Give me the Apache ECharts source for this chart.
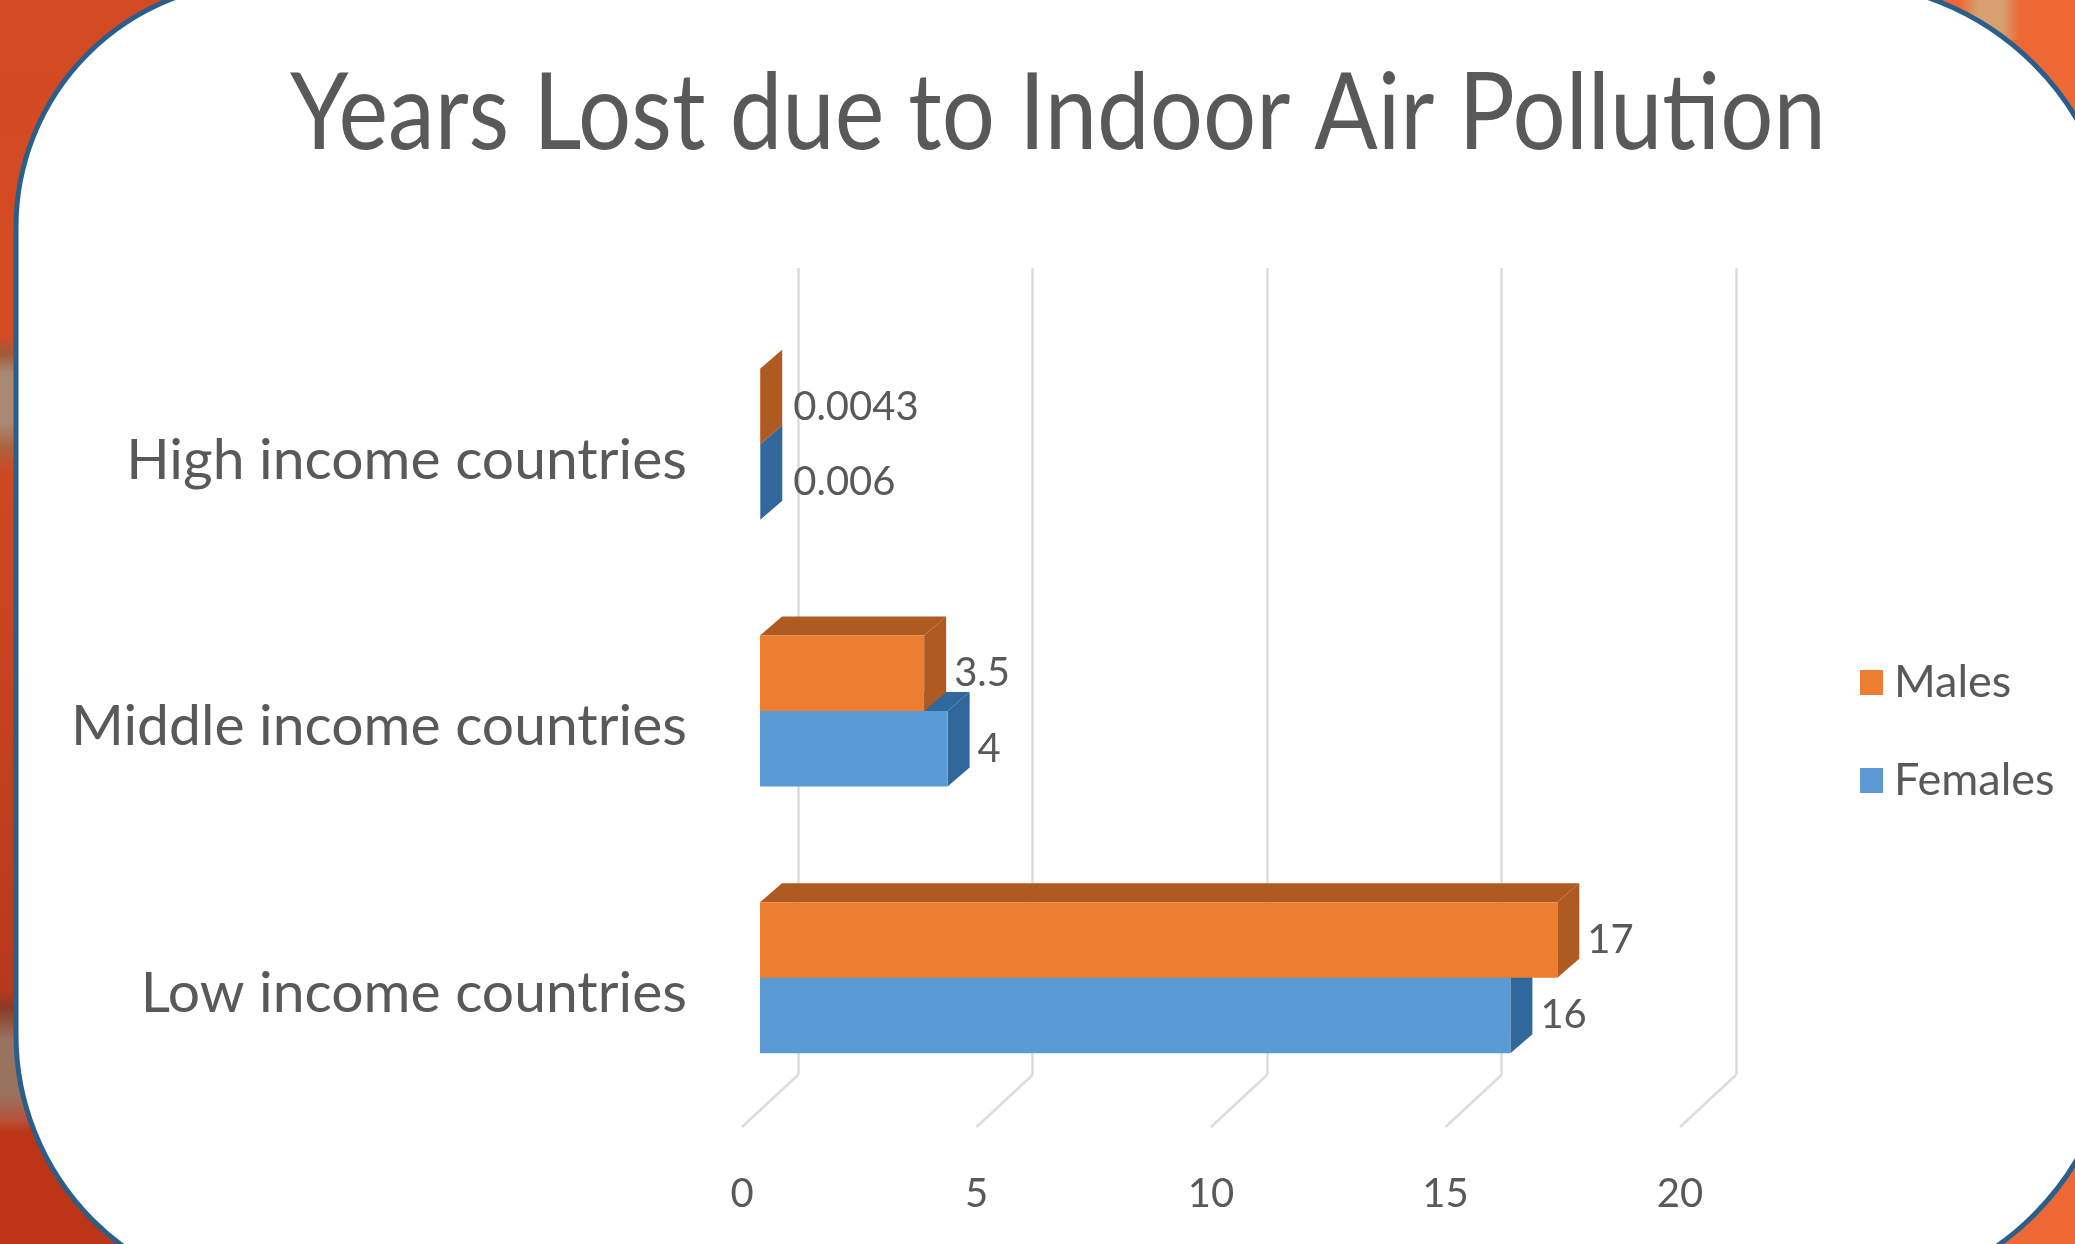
<!DOCTYPE html>
<html><head><meta charset="utf-8">
<script src="https://cdn.jsdelivr.net/npm/echarts@6/dist/echarts.min.js"></script>
<style>html,body{margin:0;padding:0;background:#d9501f}#c{width:2075px;height:1244px}</style>
</head><body><div id="c"></div>
<script>
const titleText = 'Years Lost due to Indoor Air Pollution';
const categories = ['Low income countries', 'Middle income countries', 'High income countries'];
const males = [17, 3.5, 0.0043];
const females = [16, 4, 0.006];
const xTicks = [0, 5, 10, 15, 20];

const FONT = 'Lato, "Open Sans", sans-serif';
const TEXT = '#595959';
const GRID = '#dcdcdc';

function depthBar(sign, front, shade) {
  return function (params, api) {
    const v = api.value(0), c = api.value(1);
    const a = api.coord([0, c]), b = api.coord([v, c]);
    const h = api.size([0, 1])[1] * 0.283;
    const x0 = a[0] + 18, x1 = b[0] + 18;
    const yc = a[1] - 16;
    const top = sign > 0 ? yc - h : yc, bot = top + h;
    const dx = 22, dy = 19;
    const raw = params.dataIndex;
    const txt = (sign > 0 ? males : females)[raw];
    return {
      type: 'group',
      children: [
        { type: 'polygon', shape: { points: [[x0, top], [x1, top], [x1 + dx, top - dy], [x0 + dx, top - dy]] },
          style: { fill: shade } },
        { type: 'polygon', shape: { points: [[x1, top], [x1 + dx, top - dy], [x1 + dx, bot - dy], [x1, bot]] },
          style: { fill: shade } },
        { type: 'rect', shape: { x: x0, y: top, width: x1 - x0, height: h }, style: { fill: front } },
        { type: 'text', style: { x: x1 + dx + 8 + (v < 1 ? 3 : 0), y: yc + (sign > 0 ? -h / 2 : h / 2), text: String(txt),
            fill: TEXT, fontFamily: FONT, fontSize: 40, align: 'left', verticalAlign: 'middle' } }
      ]
    };
  };
}
function floorLine(params, api) {
  const p = api.coord([api.value(0), 0]);
  const r = params.coordSys;
  const yb = r.y + r.height;
  return { type: 'line', shape: { x1: p[0], y1: yb, x2: p[0] + 56, y2: yb - 52 },
    style: { stroke: GRID, lineWidth: 2.5 } };
}

const chart = echarts.init(document.getElementById('c'), null, { renderer: 'canvas' });
chart.setOption({
  animation: false,
  backgroundColor: 'transparent',
  legend: { orient: 'vertical', left: 1855, top: 655, itemWidth: 23, itemHeight: 25, itemGap: 53,
    data: ['Males', 'Females'], icon: 'rect',
    textStyle: { fontFamily: FONT, fontSize: 45, color: TEXT, padding: [0, 0, 0, 6] } },
  grid: [
    { left: 798, top: 268, width: 938, height: 807 },
    { left: 742, top: 327, width: 938, height: 800 }
  ],
  xAxis: [
    { type: 'value', gridIndex: 0, min: 0, max: 20, interval: 5,
      axisLabel: { show: false }, axisLine: { show: false }, axisTick: { show: false },
      splitLine: { show: true, lineStyle: { color: GRID, width: 2.5 } } },
    { type: 'value', gridIndex: 1, min: 0, max: 20, interval: 5,
      axisLine: { show: false }, axisTick: { show: false }, splitLine: { show: false },
      axisLabel: { margin: 47, color: TEXT, fontFamily: FONT, fontSize: 40 } }
  ],
  yAxis: [
    { type: 'category', gridIndex: 0, data: categories, show: false },
    { type: 'category', gridIndex: 1, data: categories,
      axisLine: { show: false }, axisTick: { show: false },
      axisLabel: { margin: 55, color: TEXT, fontFamily: FONT, fontSize: 57 } }
  ],
  series: [
    { type: 'custom', name: 'floor', xAxisIndex: 1, yAxisIndex: 1, silent: true, z: 1, clip: false,
      data: xTicks.map(t => [t]), encode: { x: 0 }, renderItem: floorLine },
    { type: 'custom', name: 'Females', xAxisIndex: 1, yAxisIndex: 1, z: 3, clip: false,
      itemStyle: { color: '#5B9BD5' },
      data: females.map((v, i) => [v, i]), encode: { x: 0, y: 1 },
      renderItem: depthBar(-1, '#5B9BD5', '#31689B') },
    { type: 'custom', name: 'Males', xAxisIndex: 1, yAxisIndex: 1, z: 4, clip: false,
      itemStyle: { color: '#ED7D31' },
      data: males.map((v, i) => [v, i]), encode: { x: 0, y: 1 },
      renderItem: depthBar(1, '#ED7D31', '#AE5A21') }
  ],
  graphic: [
    { type: 'rect', z: -20, silent: true, shape: { x: 1037, y: 0, width: 1038, height: 1244 },
      style: { fill: '#EE6836' } },
    { type: 'rect', z: -20, silent: true, shape: { x: 0, y: 0, width: 1037, height: 1244 },
      style: { fill: new echarts.graphic.LinearGradient(0, 0, 0, 1, [
        { offset: 0, color: '#D44A22' }, { offset: 0.27, color: '#D34C24' },
        { offset: 0.285, color: '#A05A3C' }, { offset: 0.30, color: '#A88A72' },
        { offset: 0.34, color: '#A88A72' }, { offset: 0.36, color: '#B06040' },
        { offset: 0.38, color: '#CE4822' }, { offset: 0.64, color: '#C23F1C' },
        { offset: 0.795, color: '#B8391A' }, { offset: 0.81, color: '#8A3A25' },
        { offset: 0.835, color: '#98735F' }, { offset: 0.88, color: '#98735F' },
        { offset: 0.90, color: '#B8523A' }, { offset: 0.91, color: '#BC3516' },
        { offset: 1, color: '#BC3516' }]) } },
    { type: 'rect', z: -15, silent: true, shape: { x: 1960, y: 0, width: 60, height: 40 },
      style: { fill: new echarts.graphic.LinearGradient(0, 0, 1, 0, [
        { offset: 0, color: 'rgba(216,160,112,0)' }, { offset: 0.3, color: '#D8A070' },
        { offset: 0.7, color: '#D8A070' }, { offset: 1, color: 'rgba(216,160,112,0)' }]) } },
    { type: 'rect', z: -10, silent: true, shape: { x: 16, y: -18, width: 2100, height: 1315, r: [245, 280, 280, 262] },
      style: { fill: '#ffffff', stroke: '#2B5F8A', lineWidth: 5 } },
    { type: 'text', z: 5, silent: true, x: 1058, y: 115, scaleX: 0.886, originX: 0, originY: 0,
      style: { text: titleText, fontFamily: FONT, fontWeight: 400, fontSize: 106, fill: '#595959',
        align: 'center', verticalAlign: 'middle' } }
  ]
});
</script></body></html>
